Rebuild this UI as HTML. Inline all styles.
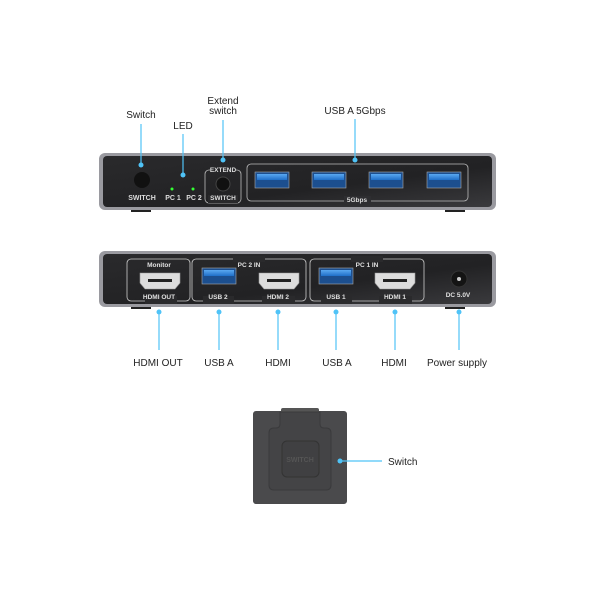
<!DOCTYPE html>
<html><head><meta charset="utf-8"><style>
html,body{margin:0;padding:0;background:#fff}
svg{display:block}
text{font-family:"Liberation Sans",sans-serif}
</style></head><body>
<svg width="600" height="600" viewBox="0 0 600 600" xmlns="http://www.w3.org/2000/svg">
<defs>
<linearGradient id="pan" x1="0" y1="0" x2="1" y2="1">
<stop offset="0" stop-color="#2a2a2c"/><stop offset="0.6" stop-color="#222224"/><stop offset="1" stop-color="#3a3a3d"/></linearGradient>
<linearGradient id="usb" x1="0" y1="0" x2="0" y2="1"><stop offset="0" stop-color="#5aa8f0"/><stop offset="1" stop-color="#1f6fc8"/></linearGradient>
</defs>
<!-- TOP DEVICE -->
<rect x="131" y="208" width="20" height="4" fill="#222"/><rect x="445" y="208" width="20" height="4" fill="#222"/>
<rect x="99" y="153" width="397" height="57" rx="6" fill="#9a9aa0"/>
<rect x="103" y="156" width="389" height="51" rx="4" fill="url(#pan)"/>
<circle cx="142" cy="180" r="8" fill="#111"/>
<text x="142" y="200" font-size="7" fill="#ddd" text-anchor="middle" font-weight="bold">SWITCH</text>
<circle cx="172" cy="189" r="1.5" fill="#3f3"/><circle cx="193" cy="189" r="1.5" fill="#3f3"/>
<text x="173" y="200" font-size="7" fill="#ddd" text-anchor="middle" font-weight="bold">PC 1</text>
<text x="194" y="200" font-size="7" fill="#ddd" text-anchor="middle" font-weight="bold">PC 2</text>
<rect x="205" y="170" width="36" height="33" rx="4" fill="none" stroke="#bbb" stroke-width="0.8"/>
<rect x="210" y="166" width="26" height="8" fill="#272729"/><rect x="208" y="195" width="30" height="8" fill="#29292b"/>
<text x="223" y="172" font-size="6.5" fill="#ddd" text-anchor="middle" font-weight="bold">EXTEND</text>
<text x="223" y="200" font-size="6.5" fill="#ddd" text-anchor="middle" font-weight="bold">SWITCH</text>
<circle cx="223" cy="184" r="7" fill="#111" stroke="#444"/>
<rect x="247" y="164" width="221" height="37" rx="4" fill="none" stroke="#bbb" stroke-width="0.8"/>
<rect x="344" y="196" width="27" height="8" fill="#2e2e31"/>
<text x="357" y="202" font-size="6.5" fill="#ddd" text-anchor="middle" font-weight="bold">5Gbps</text>
<g>
<rect x="255" y="172" width="34" height="16" fill="#1c4f8f" stroke="#aaa" stroke-width="0.6"/><rect x="257" y="174" width="30" height="6" fill="url(#usb)"/>
<rect x="312" y="172" width="34" height="16" fill="#1c4f8f" stroke="#aaa" stroke-width="0.6"/><rect x="314" y="174" width="30" height="6" fill="url(#usb)"/>
<rect x="369" y="172" width="34" height="16" fill="#1c4f8f" stroke="#aaa" stroke-width="0.6"/><rect x="371" y="174" width="30" height="6" fill="url(#usb)"/>
<rect x="427" y="172" width="34" height="16" fill="#1c4f8f" stroke="#aaa" stroke-width="0.6"/><rect x="429" y="174" width="30" height="6" fill="url(#usb)"/>
</g>
<!-- top connectors -->
<g stroke="#4fc3f7" stroke-width="1.2" fill="#4fc3f7">
<line x1="141" y1="124" x2="141" y2="165"/><circle cx="141" cy="165" r="2.5" stroke="none"/>
<line x1="183" y1="134" x2="183" y2="175"/><circle cx="183" cy="175" r="2.5" stroke="none"/>
<line x1="223" y1="120" x2="223" y2="160"/><circle cx="223" cy="160" r="2.5" stroke="none"/>
<line x1="355" y1="119" x2="355" y2="160"/><circle cx="355" cy="160" r="2.5" stroke="none"/>
</g>
<g font-size="10" fill="#222" text-anchor="middle">
<text x="141" y="118">Switch</text>
<text x="183" y="129">LED</text>
<text x="223" y="104">Extend</text><text x="223" y="114">switch</text>
<text x="355" y="114">USB A 5Gbps</text>
</g>
<!-- BOTTOM DEVICE -->
<rect x="131" y="304" width="20" height="5" fill="#222"/><rect x="445" y="304" width="20" height="5" fill="#222"/>
<rect x="99" y="251" width="397" height="56" rx="6" fill="#9a9aa0"/>
<rect x="103" y="254" width="389" height="50" rx="4" fill="url(#pan)"/>
<g fill="none" stroke="#ccc" stroke-width="0.8">
<rect x="127" y="259" width="63" height="42" rx="4"/>
<rect x="192" y="259" width="114" height="42" rx="4"/>
<rect x="310" y="259" width="114" height="42" rx="4"/>
</g>
<g fill="#2a2a2c">
<rect x="145" y="296" width="32" height="8"/><rect x="203" y="296" width="31" height="8"/><rect x="262" y="296" width="33" height="8"/>
<rect x="321" y="296" width="31" height="8"/><rect x="379" y="296" width="33" height="8"/>
<rect x="233" y="256" width="32" height="6"/><rect x="351" y="256" width="32" height="6"/>
</g>
<g font-size="6.5" fill="#e0e0e0" text-anchor="middle" font-weight="bold">
<text x="159" y="267">Monitor</text><text x="159" y="299">HDMI OUT</text>
<text x="249" y="267">PC 2 IN</text><text x="218" y="299">USB 2</text><text x="278" y="299">HDMI 2</text>
<text x="367" y="267">PC 1 IN</text><text x="336" y="299">USB 1</text><text x="395" y="299">HDMI 1</text>
<text x="458" y="297">DC 5.0V</text>
</g>
<g fill="#ddd" stroke="#999" stroke-width="0.6">
<path d="M140 273 h40 v10 l-5 6 h-30 l-5 -6z"/>
<path d="M259 273 h40 v10 l-5 6 h-30 l-5 -6z"/>
<path d="M375 273 h40 v10 l-5 6 h-30 l-5 -6z"/>
</g>
<g fill="#222"><rect x="148" y="279" width="24" height="3"/><rect x="267" y="279" width="24" height="3"/><rect x="383" y="279" width="24" height="3"/></g>
<rect x="202" y="268" width="34" height="16" fill="#1c4f8f" stroke="#aaa" stroke-width="0.6"/><rect x="204" y="270" width="30" height="6" fill="url(#usb)"/>
<rect x="319" y="268" width="34" height="16" fill="#1c4f8f" stroke="#aaa" stroke-width="0.6"/><rect x="321" y="270" width="30" height="6" fill="url(#usb)"/>
<circle cx="459" cy="279" r="8" fill="#141414" stroke="#333"/><circle cx="459" cy="279" r="2" fill="#ccc"/>
<g stroke="#4fc3f7" stroke-width="1.2" fill="#4fc3f7">
<line x1="159" y1="312" x2="159" y2="350"/><circle cx="159" cy="312" r="2.5" stroke="none"/>
<line x1="219" y1="312" x2="219" y2="350"/><circle cx="219" cy="312" r="2.5" stroke="none"/>
<line x1="278" y1="312" x2="278" y2="350"/><circle cx="278" cy="312" r="2.5" stroke="none"/>
<line x1="336" y1="312" x2="336" y2="350"/><circle cx="336" cy="312" r="2.5" stroke="none"/>
<line x1="395" y1="312" x2="395" y2="350"/><circle cx="395" cy="312" r="2.5" stroke="none"/>
<line x1="459" y1="312" x2="459" y2="350"/><circle cx="459" cy="312" r="2.5" stroke="none"/>
</g>
<g font-size="10" fill="#222" text-anchor="middle">
<text x="158" y="366">HDMI OUT</text><text x="219" y="366">USB A</text><text x="278" y="366">HDMI</text>
<text x="337" y="366">USB A</text><text x="394" y="366">HDMI</text><text x="457" y="366">Power supply</text>
</g>
<!-- SWITCH PART -->
<rect x="253" y="411" width="94" height="93" rx="3" fill="#4a4a4c"/>
<rect x="281" y="408" width="38" height="6" rx="2" fill="#555"/>
<path d="M280 412 h40 v12 q0 4 4 4 h2 q5 0 5 5 v52 q0 5 -5 5 h-52 q-5 0 -5 -5 v-52 q0 -5 5 -5 h2 q4 0 4 -4z" fill="#444446" stroke="#3a3a3c"/>
<rect x="282" y="441" width="37" height="36" rx="5" fill="#404042" stroke="#333" stroke-width="1"/>
<text x="300" y="462" font-size="7" fill="#555" text-anchor="middle" font-weight="bold">SWITCH</text>
<line x1="340" y1="461" x2="382" y2="461" stroke="#4fc3f7" stroke-width="1.2"/><circle cx="340" cy="461" r="2.5" fill="#4fc3f7"/>
<text x="388" y="465" font-size="10" fill="#222">Switch</text>
</svg>
</body></html>
